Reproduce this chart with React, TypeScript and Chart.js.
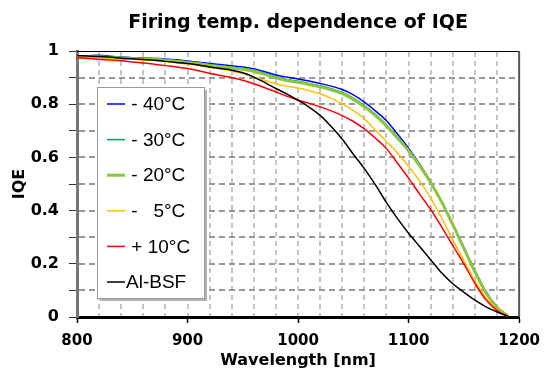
import React, { useEffect, useRef } from 'react';
import { Chart, registerables } from 'chart.js';

Chart.register(...registerables);

const wavelengths = [
  800, 810, 820, 830, 840, 850, 860, 870, 880, 890,
  900, 910, 920, 930, 940, 950, 960, 970, 980, 990,
  1000, 1010, 1020, 1030, 1040, 1050, 1060, 1070, 1080, 1090,
  1100, 1110, 1120, 1130, 1140, 1150, 1160, 1170, 1180, 1190,
];

const minus40 = [
  0.980, 0.982, 0.984, 0.980, 0.977, 0.975, 0.974, 0.972, 0.970, 0.967,
  0.962, 0.958, 0.953, 0.949, 0.945, 0.940, 0.933, 0.922, 0.910, 0.902,
  0.895, 0.887, 0.878, 0.868, 0.855, 0.835, 0.808, 0.775, 0.738, 0.688,
  0.635, 0.575, 0.508, 0.433, 0.350, 0.262, 0.175, 0.095, 0.038, 0.003,
];

const minus30 = [
  0.979, 0.980, 0.980, 0.978, 0.976, 0.974, 0.972, 0.970, 0.967, 0.964,
  0.960, 0.955, 0.949, 0.944, 0.940, 0.935, 0.928, 0.916, 0.903, 0.893,
  0.886, 0.878, 0.869, 0.858, 0.844, 0.823, 0.795, 0.762, 0.723, 0.677,
  0.628, 0.570, 0.506, 0.433, 0.348, 0.258, 0.170, 0.091, 0.036, 0.003,
];

const minus20 = [
  0.979, 0.979, 0.978, 0.976, 0.974, 0.972, 0.970, 0.968, 0.965, 0.961,
  0.957, 0.952, 0.946, 0.941, 0.936, 0.931, 0.924, 0.912, 0.899, 0.889,
  0.882, 0.874, 0.865, 0.854, 0.840, 0.818, 0.790, 0.757, 0.718, 0.672,
  0.625, 0.568, 0.505, 0.432, 0.347, 0.258, 0.170, 0.090, 0.036, 0.003,
];

const minus5 = [
  0.980, 0.978, 0.976, 0.974, 0.972, 0.970, 0.968, 0.965, 0.961, 0.956,
  0.951, 0.945, 0.938, 0.932, 0.925, 0.915, 0.902, 0.889, 0.877, 0.868,
  0.861, 0.851, 0.839, 0.822, 0.801, 0.776, 0.745, 0.702, 0.660, 0.617,
  0.567, 0.511, 0.448, 0.372, 0.290, 0.212, 0.136, 0.072, 0.028, 0.002,
];

const plus10 = [
  0.974, 0.972, 0.969, 0.966, 0.963, 0.959, 0.955, 0.950, 0.945, 0.940,
  0.934, 0.926, 0.916, 0.908, 0.900, 0.890, 0.877, 0.862, 0.846, 0.830,
  0.815, 0.803, 0.790, 0.775, 0.757, 0.735, 0.707, 0.672, 0.633, 0.578,
  0.522, 0.462, 0.404, 0.338, 0.268, 0.200, 0.126, 0.065, 0.025, 0.000,
];

const alBsf = [
  0.982, 0.981, 0.979, 0.977, 0.973, 0.971, 0.968, 0.965, 0.961, 0.957,
  0.953, 0.947, 0.940, 0.934, 0.928, 0.918, 0.902, 0.881, 0.859, 0.838,
  0.815, 0.789, 0.758, 0.716, 0.668, 0.612, 0.558, 0.497, 0.430, 0.370,
  0.315, 0.265, 0.215, 0.165, 0.125, 0.093, 0.063, 0.038, 0.019, 0.003,
];

const seriesLabels = [' - 40°C', ' - 30°C', ' - 20°C', ' -   5°C', ' + 10°C', 'Al-BSF'];
const seriesValues = [minus40, minus30, minus20, minus5, plus10, alBsf];
const seriesColors = ['#0000ff', '#00a651', '#8cc63f', '#ffc000', '#ff0000', '#000000'];
const seriesWidths = [1.5, 1.5, 3, 1.5, 1.5, 1.5];
const seriesOrder = [5, 4, 3, 2, 1, 0];

const titleText = 'Firing temp. dependence of IQE';
const xTitle = 'Wavelength [nm]';
const yTitle = 'IQE';

const boldFont = (size: number) => ({ family: '"DejaVu Sans", sans-serif', weight: 'bold' as const, size });

function dashH(ctx: CanvasRenderingContext2D, x0: number, x1: number, y: number, on: number, off: number, w: number) {
  for (let x = x0; x < x1; x += on + off) {
    ctx.fillRect(x, y, Math.min(on, x1 - x), w);
  }
}
function dashV(ctx: CanvasRenderingContext2D, y0: number, y1: number, x: number, on: number, off: number, w: number) {
  for (let y = y0; y < y1; y += on + off) {
    ctx.fillRect(x, y, w, Math.min(on, y1 - y));
  }
}

const gridPlugin = {
  id: 'dashedGrid',
  beforeDatasetsDraw(chart: any) {
    const { ctx, chartArea: a, scales } = chart;
    ctx.save();
    ctx.fillStyle = '#c4c4c4';
    scales.x.ticks.forEach((t: any) => {
      const px = Math.round(scales.x.getPixelForValue(t.value));
      if (px <= a.left + 2 || px >= a.right - 2) return;
      dashV(ctx, Math.round(a.top) + 1, a.bottom - 1, px - 1, 5, 4, 2);
    });
    ctx.fillStyle = '#999999';
    scales.y.ticks.forEach((t: any) => {
      const py = Math.round(scales.y.getPixelForValue(t.value));
      if (py <= a.top + 2 || py >= a.bottom - 2) return;
      dashH(ctx, Math.round(a.left) + 2, a.right, py - 1, 6, 4, 2);
    });
    ctx.restore();
  },
  afterDatasetsDraw(chart: any) {
    const { ctx, chartArea: a } = chart;
    ctx.save();
    // top and right frame
    ctx.fillStyle = '#000';
    ctx.fillRect(a.left, a.top, a.right - a.left, 1);
    ctx.fillStyle = '#555';
    ctx.fillRect(a.right - 1, a.top, 2, a.bottom - a.top);

    // title centred over the plot area
    ctx.fillStyle = '#000';
    ctx.font = 'bold 19px "DejaVu Sans", sans-serif';
    ctx.textAlign = 'center';
    ctx.textBaseline = 'middle';
    ctx.fillText(titleText, (a.left + a.right) / 2, 23);

    // legend box
    const bx = a.left + 20;
    const by = a.top + 36;
    const bw = 107;
    const bh = 211;
    ctx.fillStyle = '#b4b4b4';
    ctx.fillRect(bx + 3, by + 3, bw, bh);
    ctx.fillStyle = '#ffffff';
    ctx.fillRect(bx, by, bw, bh);
    ctx.strokeStyle = '#999';
    ctx.lineWidth = 1;
    ctx.strokeRect(bx + 0.5, by + 0.5, bw, bh);

    ctx.font = '19px "Liberation Sans", Arial, sans-serif';
    ctx.textBaseline = 'middle';
    ctx.textAlign = 'left';
    chart.data.datasets.forEach((ds: any, i: number) => {
      const y = by + 17 + i * 35.6;
      ctx.strokeStyle = ds.borderColor;
      ctx.lineWidth = ds.borderWidth;
      ctx.beginPath();
      ctx.moveTo(bx + 10, y);
      ctx.lineTo(bx + 28, y);
      ctx.stroke();
      ctx.fillStyle = '#000';
      ctx.fillText(ds.label, bx + 29, y + 1);
    });
    ctx.restore();
  },
};

export default function App() {
  const canvasRef = useRef<HTMLCanvasElement | null>(null);

  useEffect(() => {
    document.body.style.margin = '0';
    const canvas = canvasRef.current;
    if (!canvas) return;

    const datasets = seriesLabels.map((label, i) => ({
      label,
      data: wavelengths.map((w, j) => ({ x: w, y: seriesValues[i][j] })),
      borderColor: seriesColors[i],
      backgroundColor: seriesColors[i],
      borderWidth: seriesWidths[i],
      pointRadius: 0,
      cubicInterpolationMode: 'monotone' as const,
      fill: false,
      order: seriesOrder[i],
    }));

    const chart = new Chart(canvas, {
      type: 'line',
      data: { datasets },
      options: {
        animation: false,
        responsive: false,
        devicePixelRatio: 1,
        layout: { padding: { left: 0, right: 24, top: 51, bottom: 0 } },
        plugins: {
          legend: { display: false },
          tooltip: { enabled: false },
          title: { display: false },
        },
        scales: {
          x: {
            type: 'linear',
            min: 800,
            max: 1200,
            ticks: {
              stepSize: 20,
              autoSkip: false,
              maxRotation: 0,
              padding: 9,
              color: '#000',
              font: boldFont(15),
              callback: (v: any) => (Number(v) % 100 === 0 ? String(v) : ''),
            },
            grid: {
              drawOnChartArea: false,
              color: '#bcbcbc',
              lineWidth: 1,
              tickLength: 6,
              tickWidth: 1.5,
              tickColor: (c: any) =>
                c.tick && Number(c.tick.value) % 100 === 0 ? '#000' : 'rgba(0,0,0,0)',
            },
            border: { display: true, color: '#000', width: 3 },
            title: {
              display: true,
              text: xTitle,
              color: '#000',
              font: boldFont(16),
              padding: { top: 0, bottom: 1 },
            },
            afterFit: (s: any) => {
              s.height = 54;
            },
          },
          y: {
            type: 'linear',
            min: 0,
            max: 1,
            ticks: {
              stepSize: 0.1,
              padding: 10,
              color: '#000',
              font: boldFont(16),
              callback: (v: any) => {
                const k = Math.round(Number(v) * 10);
                return k % 2 === 0 ? String(k / 10) : '';
              },
            },
            grid: {
              drawOnChartArea: false,
              color: '#8c8c8c',
              lineWidth: 1,
              tickLength: 8,
              tickWidth: 1,
              tickColor: '#333',
            },
            border: { display: true, color: '#777', width: 3 },
            title: {
              display: true,
              text: yTitle,
              color: '#000',
              font: boldFont(16),
              padding: { top: 10, bottom: 0 },
            },
            afterFit: (s: any) => {
              s.width = 77;
            },
          },
        },
      },
      plugins: [gridPlugin],
    });

    return () => {
      chart.destroy();
    };
  }, []);

  return (
    <div style={{ width: 549, height: 371 }}>
      <canvas ref={canvasRef} width={549} height={371} style={{ display: 'block' }} />
    </div>
  );
}
